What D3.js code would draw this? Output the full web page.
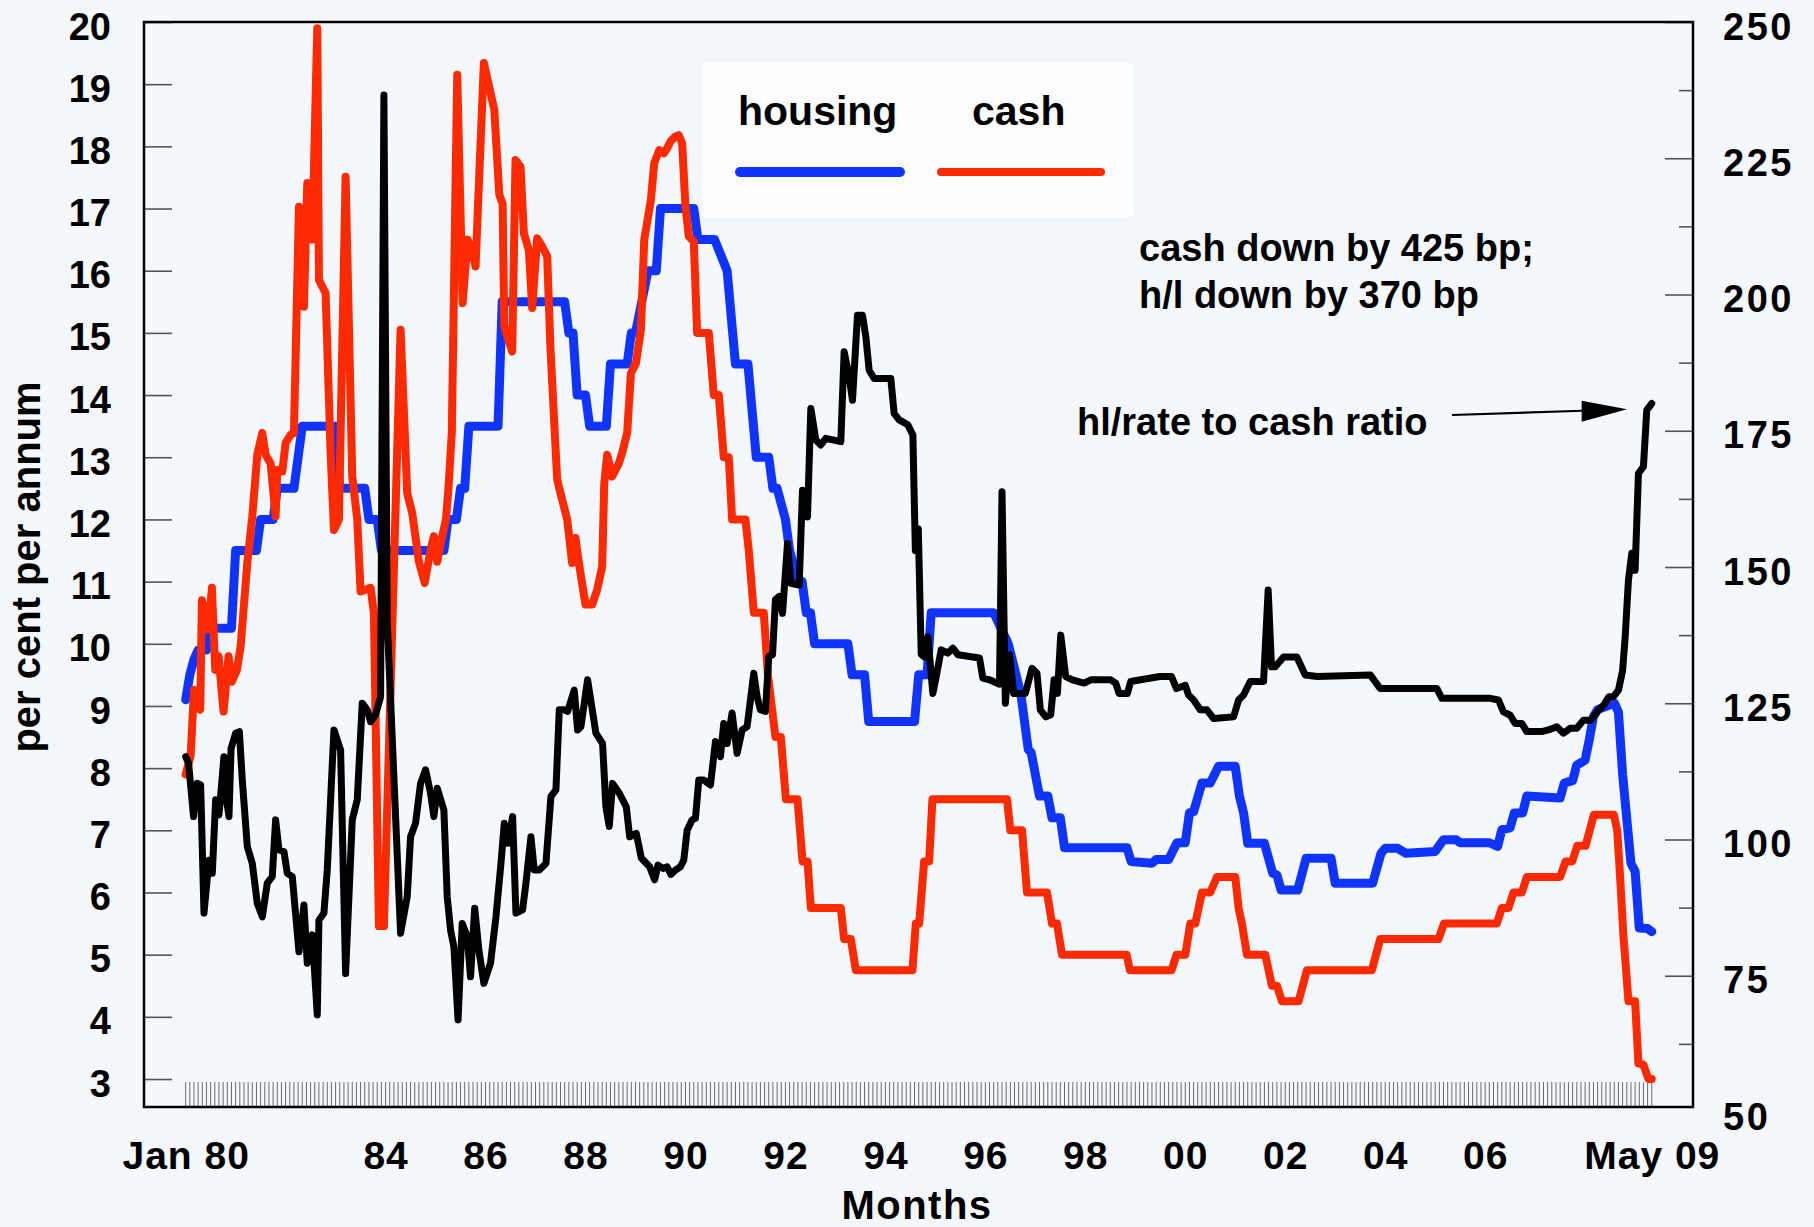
<!DOCTYPE html>
<html>
<head>
<meta charset="utf-8">
<script src="https://cdn.jsdelivr.net/npm/d3@7"></script>
<style>
  body { margin: 0; background: #f4f8fc; }
  svg { display: block; }
</style>
</head>
<body>
<svg id="chart" width="1814" height="1227"></svg>
<script>
// all series are [months since Jan 1980, value]
var housing = [
  [0, 9.1], [1, 9.5], [2, 9.75], [3, 9.9], [5, 9.9], [6, 10.25], [11, 10.25], [12, 11.5], [17, 11.5],
  [18, 12.0], [21, 12.0], [22, 12.5], [26, 12.5], [28, 13.5], [36, 13.5], [37, 12.5], [43, 12.5],
  [44, 12.0], [46, 12.0], [47, 11.5], [62, 11.5], [63, 12.0], [65, 12.0], [66, 12.5], [67, 12.5],
  [68, 13.5], [75, 13.5], [76, 15.5], [91, 15.5], [92, 15.0], [93, 15.0], [94, 14.0], [96, 14.0],
  [97, 13.5], [101, 13.5], [102, 14.5], [106, 14.5], [107, 15.0], [108, 15.0], [111, 16.0], [113, 16.0],
  [114, 17.0], [122, 17.0], [123, 16.5], [127, 16.5], [130, 16.0], [132, 14.5], [135, 14.5], [137, 13.0],
  [140, 13.0], [141, 12.5], [142, 12.5], [144, 12.0], [145, 11.5], [147, 11.0], [148, 11.0], [149, 10.5],
  [150, 10.5], [151, 10.0], [159, 10.0], [160, 9.5], [163, 9.5], [164, 8.75], [175, 8.75], [176, 9.5],
  [178, 9.5], [179, 10.5], [194, 10.5], [197.5, 10.0], [200.5, 9.2], [202.3, 8.3], [203, 8.25],
  [205, 7.55], [207, 7.55], [208, 7.2], [210, 7.2], [211, 6.72], [226, 6.72], [227, 6.5], [232, 6.47],
  [233, 6.53], [236, 6.53], [238, 6.8], [240, 6.8], [241, 7.28], [242, 7.3], [244, 7.76], [246, 7.76],
  [248, 8.03], [252, 8.03], [253, 7.55], [254, 7.28], [255, 6.79], [259, 6.79], [261, 6.31], [262, 6.28],
  [263, 6.04], [267, 6.04], [269, 6.55], [275, 6.55], [276, 6.15], [285, 6.15], [287, 6.63], [288, 6.71],
  [291, 6.71], [293, 6.63], [300, 6.66], [302, 6.85], [305, 6.85], [306, 6.8], [313, 6.8], [315, 6.74],
  [316, 7.01], [318, 7.04], [319, 7.28], [321, 7.28], [322, 7.55], [330, 7.52], [331, 7.76], [333, 7.8],
  [334, 8.05], [336, 8.13], [337, 8.46], [338, 8.83], [339, 8.94], [342, 9.02], [343, 9.05], [344, 8.9],
  [345, 7.9], [347, 6.47], [348, 6.34], [349, 5.43], [351, 5.42], [352, 5.37]
];

var cash = [
  [0, 7.9], [1.2, 8.2], [2, 9.26], [3.5, 8.94], [3.9, 10.7], [5.5, 10.23], [6.3, 10.9], [7.1, 9.58],
  [7.9, 9.8], [9.1, 8.91], [10.3, 9.8], [11.1, 9.39], [12.3, 9.58], [13.2, 9.96], [14.8, 11.3],
  [16, 12.05], [17.2, 13.04], [18.4, 13.39], [19.2, 13.04], [20.4, 12.9], [21.6, 12.05], [22, 12.8],
  [23.2, 12.77], [24, 13.23], [25.2, 13.36], [26, 13.39], [27.2, 17.03], [28.4, 15.42], [29.2, 17.41],
  [30.4, 16.5], [31.6, 19.9], [32, 15.85], [33.6, 15.64], [34.8, 13.07], [35.6, 11.83], [36.8, 12.0],
  [38.4, 17.51], [40, 12.69], [41.2, 12.0], [42, 10.84], [44.4, 10.9], [45.2, 10.49], [46.4, 5.46],
  [47.6, 5.46], [51.6, 15.05], [53.2, 12.42], [54.4, 12.1], [56, 11.32], [57.4, 10.98], [58.8, 11.51],
  [59.6, 11.73], [60.4, 11.32], [61.6, 11.73], [62.5, 12.0], [63.1, 12.5], [63.9, 13.4], [65.2, 19.15],
  [66.5, 15.48], [67.7, 16.5], [68.9, 16.28], [69.6, 16.07], [71.6, 19.34], [74.1, 18.59], [75.3, 17.22],
  [76.1, 17.08], [76.5, 15.1], [78.4, 14.7], [79.2, 17.78], [80.4, 17.67], [81.2, 16.6], [82.4, 16.33],
  [83.2, 15.4], [84.4, 16.52], [85.6, 16.39], [86.8, 16.23], [87.6, 14.73], [89.2, 12.64], [90, 12.42],
  [91.6, 12.0], [92.8, 11.3], [93.6, 11.7], [94.4, 11.3], [96, 10.63], [97.6, 10.63], [98.8, 10.87],
  [100, 11.24], [100.5, 12.58], [101.2, 13.04], [102.4, 12.69], [104, 12.9], [104.8, 13.07], [106, 13.39],
  [106.9, 14.35], [108.1, 14.51], [109.3, 15.05], [110.1, 16.5], [111.7, 17.14], [112.5, 17.73],
  [113.7, 17.94], [114.8, 17.89], [115.6, 17.97], [116.4, 18.08], [117.6, 18.16], [118.4, 18.18],
  [119.2, 18.05], [120, 17.03], [120.8, 16.55], [122, 16.47], [122.8, 15.0], [125.6, 15.0], [126.8, 14.0],
  [128, 14.0], [129.2, 13.0], [130.4, 13.0], [131.2, 12.0], [134.4, 12.0], [135.2, 11.5], [136.4, 10.5],
  [138.8, 10.5], [139.8, 9.5], [141.6, 8.5], [142.9, 8.5], [144.1, 7.5], [146.9, 7.5], [148.1, 6.5],
  [149.3, 6.5], [150.1, 5.75], [157.3, 5.75], [158.1, 5.25], [159.7, 5.25], [160.9, 4.75], [174.5, 4.75],
  [175.3, 5.5], [176.1, 5.5], [177.3, 6.5], [178.5, 6.5], [179.3, 7.5], [197.2, 7.5], [198, 7.0],
  [200.8, 7.0], [202, 6.0], [206.8, 6.0], [208, 5.5], [209.2, 5.5], [210.4, 5.0], [225.9, 5.0],
  [226.7, 4.75], [236.7, 4.75], [237.9, 5.0], [240, 5.0], [241.2, 5.5], [242.4, 5.5], [244, 6.0],
  [246, 6.0], [247.6, 6.25], [252, 6.25], [252.8, 5.75], [253.6, 5.5], [254.8, 5.0], [259.2, 5.0],
  [260.8, 4.5], [262, 4.5], [263.2, 4.25], [267.2, 4.25], [269.2, 4.75], [284.8, 4.75], [286.8, 5.25],
  [300.8, 5.25], [302.1, 5.5], [314.8, 5.5], [316, 5.75], [317.6, 5.75], [318.8, 6.0], [320.8, 6.0],
  [322, 6.25], [330, 6.25], [331.3, 6.5], [332.9, 6.5], [334.1, 6.75], [336.1, 6.75], [338.1, 7.25],
  [342.9, 7.25], [343.7, 7.0], [344.4, 6.25], [345.2, 5.3], [346.4, 4.25], [348, 4.25], [348.8, 3.25],
  [350, 3.23], [351.2, 3.0], [352, 3.0]
];

// hl/rate to cash ratio, right axis
var ratio = [
  [0, 115.2], [0.7, 114.0], [1.9, 104.2], [2.8, 110.3], [3.6, 110.0], [4.4, 86.5], [5.6, 96.2],
  [6.4, 93.8], [7.2, 107.3], [8.0, 104.5], [9.2, 115.2], [9.7, 107.9], [10.4, 104.2], [10.9, 116.7],
  [12.0, 119.5], [12.9, 119.8], [13.6, 110.9], [14.8, 98.7], [16.0, 95.6], [17.2, 88.3], [18.4, 85.8],
  [19.6, 92.0], [20.8, 93.2], [21.6, 103.6], [22.4, 98.1], [23.6, 97.8], [24.4, 93.8], [25.6, 93.2],
  [27.2, 79.4], [28.4, 88.0], [29.2, 77.3], [30.4, 82.5], [31.6, 67.8], [32.0, 85.2], [33.2, 86.5],
  [34.0, 94.4], [35.6, 120.1], [37.2, 116.4], [38.4, 75.4], [40.0, 103.6], [41.2, 107.3], [42.4, 125.0],
  [43.6, 123.8], [44.4, 121.6], [45.6, 122.9], [46.8, 126.2], [47.6, 236.6], [48.4, 140.0], [51.6, 82.8],
  [53.2, 89.5], [54.0, 100.5], [55.2, 103.0], [56.4, 110.3], [57.6, 112.8], [58.8, 108.5], [59.6, 104.2],
  [60.4, 109.4], [62.0, 105.4], [62.8, 89.5], [63.6, 83.4], [64.4, 80.3], [65.4, 66.9], [66.4, 84.6],
  [67.6, 82.2], [68.4, 74.8], [69.4, 87.4], [70.4, 79.7], [71.6, 73.6], [73.2, 77.3], [74.5, 85.8],
  [75.7, 95.6], [76.5, 103.0], [77.4, 99.3], [78.5, 104.2], [79.3, 86.5], [80.9, 87.1], [81.7, 92.0],
  [82.9, 100.5], [83.7, 94.4], [84.9, 94.4], [86.5, 95.6], [87.7, 107.9], [88.9, 109.1], [89.7, 123.8],
  [90.9, 123.8], [91.7, 123.5], [93.3, 127.4], [94.1, 120.1], [94.9, 120.7], [96.5, 129.3], [98.5, 119.5],
  [100.1, 117.6], [100.9, 106.0], [101.7, 102.4], [102.5, 110.3], [104.1, 108.5], [105.8, 106.0],
  [106.6, 100.5], [108.2, 101.1], [109.4, 96.6], [111.4, 95.0], [112.6, 92.6], [113.4, 95.3], [114.6, 94.7],
  [115.6, 95.0], [116.5, 93.6], [117.6, 94.4], [118.8, 95.0], [119.6, 96.2], [120.4, 101.7], [121.6, 103.6],
  [122.4, 103.9], [123.2, 110.9], [124.4, 110.9], [126.0, 110.0], [127.2, 118.0], [128.4, 115.2],
  [129.2, 121.3], [130.0, 117.6], [131.2, 123.2], [132.4, 115.8], [133.6, 120.1], [134.8, 120.7],
  [136.4, 130.5], [137.2, 126.2], [138.0, 123.8], [139.2, 123.5], [140.0, 133.6], [140.9, 133.9],
  [141.6, 144.0], [142.5, 144.6], [143.3, 141.5], [144.5, 154.3], [145.3, 147.0], [147.3, 146.7],
  [148.1, 164.1], [149.3, 159.2], [150.1, 179.1], [151.3, 173.3], [152.5, 172.4], [153.7, 173.6],
  [157.3, 173.0], [158.1, 189.5], [159.3, 184.9], [160.1, 180.6], [161.3, 196.2], [162.5, 196.2],
  [163.3, 192.3], [164.1, 186.1], [165.3, 184.6], [169.3, 184.6], [170.1, 178.2], [171.3, 177.0],
  [173.4, 176.1], [174.6, 174.2], [175.2, 153.0], [175.9, 157.0], [176.6, 134.0], [177.4, 133.5],
  [178.2, 137.2], [179.4, 126.8], [180.2, 129.9], [181.4, 134.8], [183.0, 134.2], [184.2, 135.1],
  [185.4, 133.9], [190.6, 133.3], [191.4, 129.6], [193.0, 129.3], [195.4, 128.5], [196.0, 163.8],
  [196.8, 125.0], [197.8, 133.9], [198.8, 126.8], [201.6, 126.8], [203.2, 131.4], [204.4, 130.5],
  [205.2, 123.8], [206.5, 122.5], [207.7, 122.9], [208.5, 129.3], [209.3, 126.8], [210.1, 137.5],
  [211.3, 129.9], [212.9, 129.3], [215.7, 128.7], [217.3, 129.3], [222.1, 129.3], [223.3, 128.7],
  [224.1, 126.8], [226.1, 126.8], [226.9, 129.0], [229.3, 129.3], [233.9, 129.9], [236.7, 129.9],
  [237.9, 127.7], [240.0, 128.3], [240.8, 126.5], [242.0, 125.6], [243.6, 123.8], [245.2, 123.8],
  [246.8, 122.2], [251.6, 122.5], [252.8, 125.6], [254.0, 126.5], [255.6, 129.0], [258.8, 129.0],
  [259.9, 145.8], [260.7, 131.7], [261.6, 131.7], [263.6, 133.5], [266.8, 133.5], [268.8, 130.2],
  [271.7, 129.9], [284.4, 130.2], [286.8, 127.7], [300.4, 127.7], [301.6, 125.9], [313.2, 125.9],
  [315.2, 125.6], [316.4, 123.4], [318.0, 122.8], [319.2, 121.3], [320.8, 121.3], [322.0, 119.8],
  [325.6, 119.8], [327.2, 120.1], [329.2, 120.7], [330.8, 119.5], [332.4, 120.4], [334.0, 120.4],
  [335.6, 121.9], [337.3, 121.9], [338.9, 123.4], [340.5, 124.7], [341.7, 126.2], [342.8, 126.2],
  [344.0, 127.4], [345.0, 131.0], [345.6, 137.0], [346.4, 147.6], [347.2, 152.5], [348.0, 149.4],
  [348.8, 167.2], [350.0, 168.4], [350.8, 178.8], [352.0, 180.0]
];

var leftTicks = [3, 4, 5, 6, 7, 8, 9, 10, 11, 12, 13, 14, 15, 16, 17, 18, 19, 20];
var rightTicks = [50, 75, 100, 125, 150, 175, 200, 225, 250];
var rightMinor = [62.5, 87.5, 112.5, 137.5, 162.5, 187.5, 212.5, 237.5];
var xTickMonths = [0, 48, 72, 96, 120, 144, 168, 192, 216, 240, 264, 288, 312, 352];
var xTickLabels = ["Jan 80", "84", "86", "88", "90", "92", "94", "96", "98", "00", "02", "04", "06", "May 09"];
var lastMonth = 352;

var font = "'Liberation Sans', Arial, Helvetica, sans-serif";
var plotLeft = 144, plotRight = 1693, plotTop = 22, plotBottom = 1107;

var svg = d3.select("#chart");

svg.append("rect").attr("width", 1814).attr("height", 1227).attr("fill", "#f4f8fc");

var x = d3.scaleLinear().domain([-10, 361.9]).range([plotLeft, plotRight]);
var yL = d3.scaleLinear().domain([2.55, 20]).range([plotBottom, plotTop]);
var yR = d3.scaleLinear().domain([50, 250]).range([1112, plotTop]);

// legend box, only a touch lighter than the page
svg.append("rect")
  .attr("x", 703).attr("y", 63).attr("width", 430).attr("height", 154)
  .attr("fill", "#fcfdff");

// monthly ticks along the bottom
svg.append("g")
  .selectAll("line")
  .data(d3.range(0, lastMonth + 1))
  .join("line")
  .attr("x1", d => x(d)).attr("x2", d => x(d))
  .attr("y1", 1082).attr("y2", plotBottom)
  .attr("stroke", "#6a6a6a")
  .attr("stroke-width", 1);

function styleAxis(g, size) {
  g.select(".domain").remove();
  g.selectAll("line").attr("stroke", "#555").attr("stroke-width", 1.6);
  g.selectAll("text")
    .style("font", "bold " + size + "px " + font)
    .attr("fill", "#000");
}

// left axis
svg.append("g")
  .attr("transform", "translate(" + plotLeft + ",0)")
  .call(d3.axisLeft(yL).tickValues(leftTicks).tickSizeInner(-28).tickSizeOuter(0).tickPadding(33))
  .call(g => styleAxis(g, 38))
  .call(g => g.selectAll("text").attr("dy", "0.45em"));

// right axis
svg.append("g")
  .attr("transform", "translate(" + plotRight + ",0)")
  .call(d3.axisRight(yR).tickValues(rightTicks).tickSizeInner(-28).tickSizeOuter(0).tickPadding(30))
  .call(g => styleAxis(g, 38))
  .call(g => g.selectAll("text").attr("dy", "0.45em").attr("letter-spacing", 2.5))
  .call(g => g.selectAll(".tick").filter(d => d < 51).select("line").remove());

svg.append("g")
  .attr("transform", "translate(" + plotRight + ",0)")
  .call(d3.axisRight(yR).tickValues(rightMinor).tickSizeInner(-14).tickSizeOuter(0).tickFormat(""))
  .call(g => styleAxis(g, 38));

// bottom labels
svg.append("g")
  .attr("transform", "translate(0," + plotBottom + ")")
  .call(d3.axisBottom(x).tickValues(xTickMonths).tickSize(0).tickPadding(34)
    .tickFormat((d, i) => xTickLabels[i]))
  .call(g => styleAxis(g, 39))
  .call(g => g.selectAll("text").attr("letter-spacing", 1));

// lines
var lineL = d3.line().x(d => x(d[0])).y(d => yL(d[1]));
var lineR = d3.line().x(d => x(d[0])).y(d => yR(d[1]));

svg.append("path").datum(housing)
  .attr("d", lineL).attr("fill", "none")
  .attr("stroke", "#1034ff").attr("stroke-width", 9)
  .attr("stroke-linejoin", "round").attr("stroke-linecap", "round");

svg.append("path").datum(cash)
  .attr("d", lineL).attr("fill", "none")
  .attr("stroke", "#ff2a00").attr("stroke-width", 8)
  .attr("stroke-linejoin", "round").attr("stroke-linecap", "round");

svg.append("path").datum(ratio)
  .attr("d", lineR).attr("fill", "none")
  .attr("stroke", "#000").attr("stroke-width", 7)
  .attr("stroke-linejoin", "round").attr("stroke-linecap", "round");

// frame
svg.append("rect")
  .attr("x", plotLeft).attr("y", plotTop)
  .attr("width", plotRight - plotLeft).attr("height", plotBottom - plotTop)
  .attr("fill", "none").attr("stroke", "#000").attr("stroke-width", 2.5);

// legend
svg.append("text").attr("x", 738).attr("y", 125).text("housing")
  .style("font", "bold 41px " + font);
svg.append("text").attr("x", 972).attr("y", 125).text("cash")
  .style("font", "bold 41px " + font);
svg.append("line").attr("x1", 740).attr("x2", 900).attr("y1", 172).attr("y2", 172)
  .attr("stroke", "#1034ff").attr("stroke-width", 10).attr("stroke-linecap", "round");
svg.append("line").attr("x1", 941).attr("x2", 1101).attr("y1", 172).attr("y2", 172)
  .attr("stroke", "#ff2a00").attr("stroke-width", 8).attr("stroke-linecap", "round");

// notes
svg.append("text").attr("x", 1139).attr("y", 261).text("cash down by 425 bp;")
  .style("font", "bold 38px " + font);
svg.append("text").attr("x", 1139).attr("y", 308).text("h/l down by 370 bp")
  .style("font", "bold 38px " + font);
svg.append("text").attr("x", 1077).attr("y", 435).text("hl/rate to cash ratio")
  .style("font", "bold 38px " + font);

// arrow
svg.append("line")
  .attr("x1", 1452).attr("y1", 415).attr("x2", 1590).attr("y2", 410.5)
  .attr("stroke", "#000").attr("stroke-width", 2.2);
svg.append("path")
  .attr("d", "M1627,409.3 L1581.7,400.7 L1581.7,421.7 Z")
  .attr("fill", "#000");

// axis titles
svg.append("text")
  .attr("transform", "translate(40,567) rotate(-90)")
  .attr("text-anchor", "middle")
  .text("per cent per annum")
  .style("font", "bold 40px " + font);

svg.append("text")
  .attr("x", 917).attr("y", 1219)
  .attr("text-anchor", "middle")
  .attr("letter-spacing", 1.5)
  .text("Months")
  .style("font", "bold 40px " + font);
</script>
</body>
</html>
